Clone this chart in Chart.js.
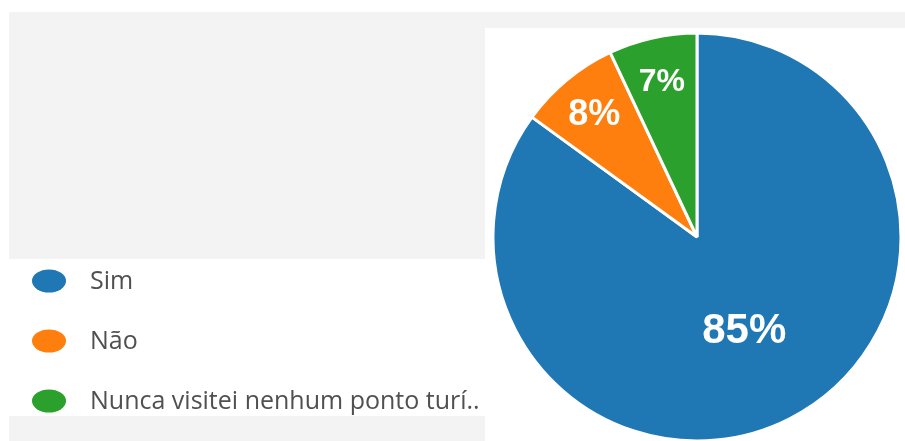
<!DOCTYPE html>
<html lang="pt">
<head>
<meta charset="utf-8">
<title>Sim / Não</title>
<script src="https://cdn.jsdelivr.net/npm/chart.js@4/dist/chart.umd.min.js"></script>
<style>
  html, body { margin: 0; padding: 0; background: #ffffff; }
  #wrap { width: 905px; height: 441px; position: relative; }
  canvas { display: block; }
</style>
</head>
<body>
<div id="wrap"><canvas id="pie" width="905" height="441"></canvas></div>
<script>
// Answer categories and their shares (percent)
const categories = ["Sim", "Não", "Nunca visitei nenhum ponto turí.."];
const shares = [85, 8, 7];
const sliceColors = ["#1f77b4", "#ff7f0e", "#2ca02c"];

// Panel backgrounds behind the chart
const panelsPlugin = {
  id: "panels",
  beforeDraw(chart) {
    const ctx = chart.ctx;
    ctx.save();
    ctx.fillStyle = "#ffffff";
    ctx.fillRect(0, 0, chart.width, chart.height);
    ctx.fillStyle = "#f3f3f3";
    ctx.fillRect(9, 12, chart.width - 9, chart.height - 12);
    ctx.fillStyle = "#ffffff";
    ctx.fillRect(485, 28, chart.width - 485, chart.height - 28);
    ctx.fillRect(9, 259, 476, 157);
    ctx.restore();
  }
};

// Percentage labels inside each slice
const sliceLabelsPlugin = {
  id: "sliceLabels",
  afterDatasetsDraw(chart, args, opts) {
    const ctx = chart.ctx;
    const meta = chart.getDatasetMeta(0);
    const values = chart.data.datasets[0].data;
    ctx.save();
    ctx.fillStyle = opts.color;
    ctx.textAlign = "center";
    ctx.textBaseline = "middle";
    meta.data.forEach((arc, i) => {
      const p = arc.getProps(["x", "y", "startAngle", "endAngle", "outerRadius"], true);
      const mid = (p.startAngle + p.endAngle) / 2;
      const big = values[i] >= 50;
      const r = p.outerRadius * (big ? 0.51 : 0.79);
      const size = opts.sizes[i];
      ctx.font = "bold " + size + "px 'Liberation Sans', Arial, sans-serif";
      ctx.fillText(values[i] + "%", p.x + Math.cos(mid) * r, p.y + Math.sin(mid) * r + 2);
    });
    ctx.restore();
  }
};

// Legend list on the left panel
const sideLegendPlugin = {
  id: "sideLegend",
  afterDraw(chart, args, opts) {
    const ctx = chart.ctx;
    const colors = chart.data.datasets[0].backgroundColor;
    ctx.save();
    ctx.font = opts.font;
    ctx.textAlign = "left";
    ctx.textBaseline = "middle";
    chart.data.labels.forEach((label, i) => {
      const y = opts.top + i * opts.step;
      ctx.fillStyle = colors[i];
      ctx.beginPath();
      ctx.ellipse(opts.markerX, y, 17, 11.5, 0, 0, Math.PI * 2);
      ctx.fill();
      ctx.fillStyle = opts.color;
      ctx.fillText(label, opts.textX, y + 1);
    });
    ctx.restore();
  }
};

new Chart(document.getElementById("pie"), {
  type: "pie",
  data: {
    labels: categories,
    datasets: [{
      data: shares,
      backgroundColor: sliceColors,
      borderColor: "#ffffff",
      borderWidth: 3,
      hoverOffset: 0
    }]
  },
  options: {
    responsive: false,
    animation: false,
    radius: 204,
    layout: { padding: { left: 493, right: 4, top: 33, bottom: 0 } },
    plugins: {
      legend: { display: false },
      tooltip: { enabled: false },
      sliceLabels: { color: "#ffffff", sizes: [42, 36, 32] },
      sideLegend: {
        font: "25px 'Open Sans', 'Noto Sans', sans-serif",
        color: "#505050",
        top: 281,
        step: 60,
        markerX: 49,
        textX: 90
      }
    }
  },
  plugins: [panelsPlugin, sliceLabelsPlugin, sideLegendPlugin]
});
</script>
</body>
</html>
